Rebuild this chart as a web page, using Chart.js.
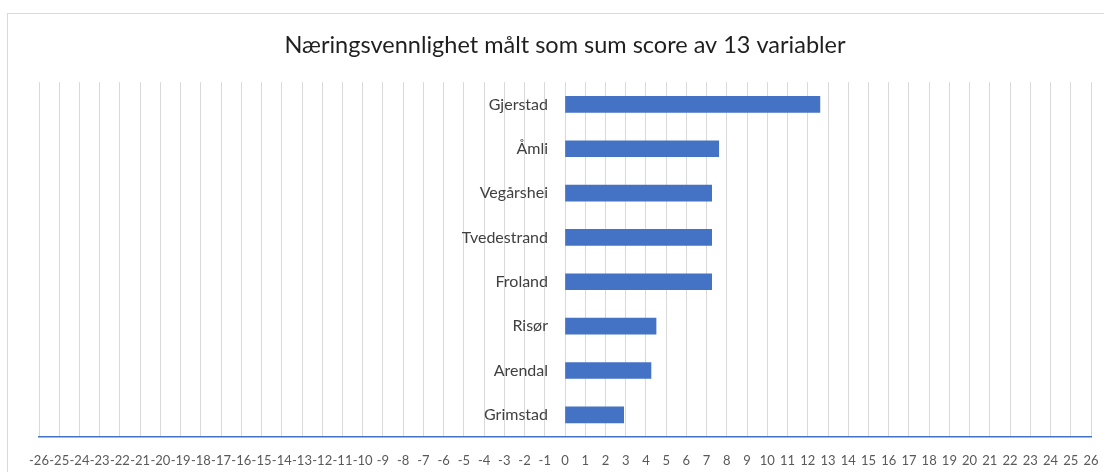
<!DOCTYPE html>
<html>
<head>
<meta charset="utf-8">
<script src="https://cdn.jsdelivr.net/npm/chart.js@4.4.0/dist/chart.umd.min.js"></script>
<style>
  html, body { margin:0; padding:0; background:#fff; overflow:hidden; }
  #wrap { position:absolute; left:7px; top:13px; width:1116px; height:480px; border:1px solid #d9d9d9; }
  canvas { display:block; }
</style>
</head>
<body>
<div id="wrap"><canvas id="chart" width="1116" height="480"></canvas></div>
<script>
// data
const kommuner = ['Gjerstad', 'Åmli', 'Vegårshei', 'Tvedestrand', 'Froland', 'Risør', 'Arendal', 'Grimstad'];
const scores = [12.6, 7.6, 7.25, 7.25, 7.25, 4.5, 4.25, 2.9];
const xMin = -26, xMax = 26;
const chartTitle = 'Næringsvennlighet målt som sum score av 13 variabler';

const FONT = 'Lato, "Open Sans", sans-serif';

const ctx = document.getElementById('chart').getContext('2d');
const chart = new Chart(ctx, {
  type: 'bar',
  data: {
    labels: kommuner,
    datasets: [{ data: scores, backgroundColor: '#4472C4', barThickness: 16 }]
  },
  options: {
    indexAxis: 'y',
    responsive: false,
    animation: false,
    layout: { padding: { left: 31, right: 33, top: 0, bottom: 17 } },
    plugins: {
      legend: { display: false },
      tooltip: { enabled: false },
      title: {
        display: true,
        text: chartTitle,
        color: '#1f1f1f',
        font: { family: FONT, size: 23.5, weight: 'normal', lineHeight: 1.2 },
        padding: { top: 17, bottom: 23 }
      }
    },
    scales: {
      x: {
        min: xMin, max: xMax,
        grid: { color: '#d9d9d9', lineWidth: 1, drawTicks: false },
        border: { color: '#4472C4', width: 1.5 },
        ticks: {
          stepSize: 1, autoSkip: false, maxRotation: 0, minRotation: 0,
          color: '#595959', padding: 16,
          font: { family: FONT, size: 13 }
        },
        afterFit: s => { s.height = 40; }
      },
      y: {
        // axis line is hidden; placing it a bit left of 0 leaves a gap between labels and bars
        position: { x: -0.84 },
        grid: { display: false, drawTicks: false },
        border: { display: false },
        ticks: { color: '#404040', padding: 0, font: { family: FONT, size: 16 } }
      }
    }
  }
});
</script>
</body>
</html>
